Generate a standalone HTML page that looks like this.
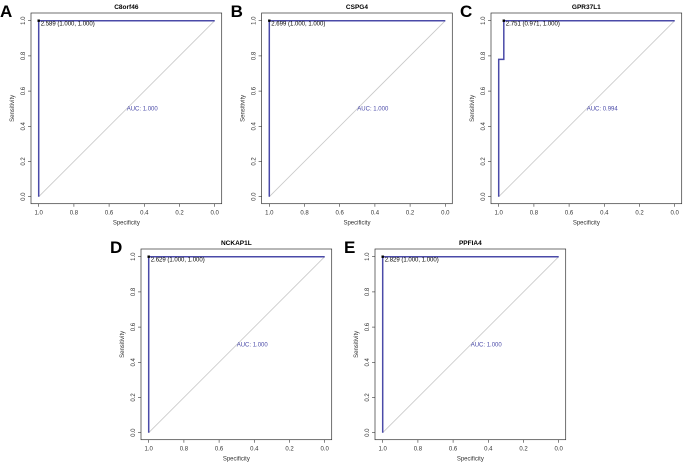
<!DOCTYPE html>
<html><head><meta charset="utf-8">
<style>
html,body{margin:0;padding:0;background:#fff;}
svg{display:block;font-family:"Liberation Sans",Arial,sans-serif;}
</style></head>
<body>
<svg id="chart" width="685" height="463" viewBox="0 0 685 463" xmlns="http://www.w3.org/2000/svg"></svg>
<script>
const panelLetters = ["A","B","C","D","E"];
const panelTitles = ["C8orf46","CSPG4","GPR37L1","NCKAP1L","PPFIA4"];
const thresholdLabels = ["2.589 (1.000, 1.000)","2.699 (1.000, 1.000)","2.751 (0.971, 1.000)","2.629 (1.000, 1.000)","2.829 (1.000, 1.000)"];
const aucLabels = ["AUC: 1.000","AUC: 1.000","AUC: 0.994","AUC: 1.000","AUC: 1.000"];
const specA = [1,1,0]; const sensA = [0,1,1];
const specB = [1,1,0]; const sensB = [0,1,1];
const specC = [1,1,0.971,0.971,0]; const sensC = [0,0.78,0.78,1,1];
const specD = [1,1,0]; const sensD = [0,1,1];
const specE = [1,1,0]; const sensE = [0,1,1];
const bestSpec = [1,1,0.971,1,1];
const bestSens = [1,1,1,1,1];
const tickVals = [1.0,0.8,0.6,0.4,0.2,0.0];
const tickLabels = ["1.0","0.8","0.6","0.4","0.2","0.0"];
const yTickVals = [0.0,0.2,0.4,0.6,0.8,1.0];
const yTickLabels = ["0.0","0.2","0.4","0.6","0.8","1.0"];

const specs=[specA,specB,specC,specD,specE];
const senss=[sensA,sensB,sensC,sensD,sensE];
// origin: pixel position of (spec=1, sens=1)
const layout=[[38.7,20.7],[269.3,20.7],[498.7,20.7],[148.7,256.7],[382.7,256.7]];
const S=176;
const svg=document.getElementById('chart');
const NS="http://www.w3.org/2000/svg";
function mk(tag,attrs,parent,text){const e=document.createElementNS(NS,tag);for(const k in attrs)e.setAttribute(k,attrs[k]);if(text!==undefined)e.textContent=text;parent.appendChild(e);return e;}

for(let i=0;i<5;i++){
  const [ox,oy]=layout[i];
  const xs=v=>ox+(1-v)*S;
  const ys=v=>oy+(1-v)*S;
  const g=mk('g',{},svg);
  
  
  const L=ox-7.7,T=oy-7.7,R=ox+S+7,B=oy+S+7;
  const letter=mk('text',{x:L-31,y:T+4,'font-size':17,'font-weight':'bold',fill:'#000'},g,panelLetters[i]);
  
  
  const title=mk('text',{x:(L+R)/2,y:T-4,'font-size':6.5,'font-weight':'bold','text-anchor':'middle',fill:'#000'},g,panelTitles[i]);
  
  
  const box=mk('rect',{x:L,y:T,width:R-L,height:B-T,fill:'none',stroke:'#333','stroke-width':0.7},g);
  
  
  const diag=mk('line',{x1:xs(1),y1:ys(0),x2:xs(0),y2:ys(1),stroke:'#c8c8c8','stroke-width':0.8},g);
  
  
  // x ticks
  tickVals.forEach((v,j)=>{
    mk('line',{x1:xs(v),y1:B,x2:xs(v),y2:B+3,stroke:'#333','stroke-width':0.6},g);
    const t=mk('text',{x:xs(v),y:B+11,'font-size':6,'text-anchor':'middle',fill:'#333'},g,tickLabels[j]);
    
    
  });
  yTickVals.forEach((v,j)=>{
    mk('line',{x1:L,y1:ys(v),x2:L-3,y2:ys(v),stroke:'#333','stroke-width':0.6},g);
    const t=mk('text',{x:L-6,y:ys(v),'font-size':6,'text-anchor':'middle',fill:'#333',transform:`rotate(-90 ${L-6} ${ys(v)})`},g,yTickLabels[j]);
    
    
  });
  const xt=mk('text',{x:(L+R)/2,y:B+21,'font-size':6,'text-anchor':'middle',fill:'#333'},g,'Specificity');
  
  
  const yx=L-17,yy=(T+B)/2;
  const yt=mk('text',{x:yx,y:yy,'font-size':6,'text-anchor':'middle',fill:'#333',transform:`rotate(-90 ${yx} ${yy})`},g,'Sensitivity');
  
  
  const pts=specs[i].map((s,k)=>xs(s)+','+ys(senss[i][k])).join(' ');
  const curve=mk('polyline',{points:pts,fill:'none',stroke:'#4a4aa8','stroke-width':1.5},g);
  
  
  const dot=mk('rect',{x:xs(bestSpec[i])-1.2,y:ys(bestSens[i])-1.2,width:2.4,height:2.4,fill:'#000'},g);
  
  
  const th=mk('text',{x:xs(bestSpec[i])+2,y:ys(bestSens[i])+5,'font-size':6,fill:'#000'},g,thresholdLabels[i]);
  
  
  const auc=mk('text',{x:xs(0.5),y:ys(0.5)+2,'font-size':6,fill:'#4a4aa8'},g,aucLabels[i]);
  
  
}
</script>
</body></html>
